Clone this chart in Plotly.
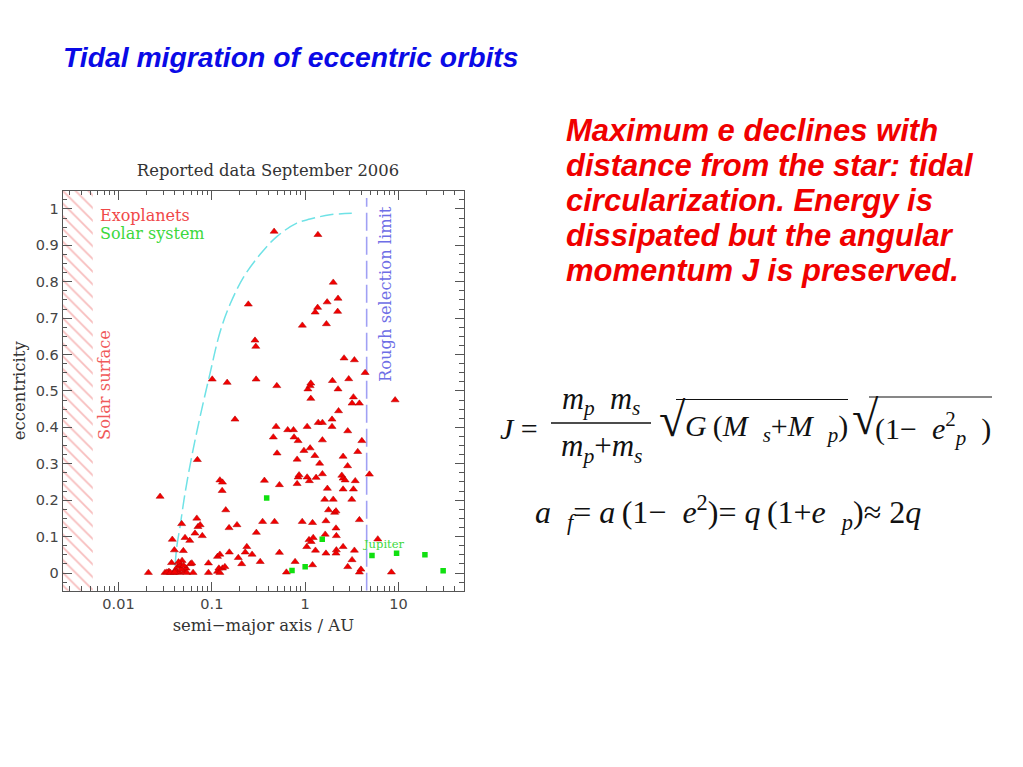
import plotly.graph_objects as go

W, H = 1023, 767

# ---------------- data ----------------
# Exoplanets: semi-major axis (AU) and eccentricity
exo_a = [0.0209, 0.0279, 0.0315, 0.0347, 0.0377, 0.0387, 0.037, 0.0397, 0.041, 0.043,
         0.045, 0.046, 0.048, 0.0475, 0.0495, 0.051, 0.0516, 0.053, 0.054, 0.058,
         0.059, 0.063, 0.066, 0.069, 0.070, 0.071, 0.075, 0.079, 0.092, 0.092,
         0.101, 0.115, 0.115, 0.122, 0.119, 0.122, 0.122, 0.130, 0.129, 0.130,
         0.138, 0.141, 0.146, 0.153, 0.154, 0.177, 0.186, 0.192, 0.209, 0.228,
         0.237, 0.033, 0.036, 0.042, 0.047, 0.044, 0.050, 0.040, 0.061,
         0.246, 0.290, 0.296, 0.298, 0.30, 0.27, 0.33, 0.35, 0.366, 0.456,
         0.465, 0.47, 0.488, 0.497, 0.50, 0.53, 0.53, 0.63, 0.65, 0.75,
         0.76, 0.78, 0.82, 0.82, 0.84, 0.84, 0.86, 0.93, 0.933, 0.97,
         1.04, 1.05, 1.05, 1.07, 1.10, 1.11, 1.13, 1.13, 1.15, 1.15,
         1.16, 1.20, 1.20, 1.22, 1.27, 1.28, 1.29, 1.31, 1.36, 1.37,
         1.38, 1.43, 1.53, 1.53, 1.53, 1.62, 1.64, 1.67, 1.67, 1.69,
         1.72, 1.73, 1.78, 1.94, 1.94, 1.96, 2.00, 2.00, 2.07, 2.14,
         2.14, 2.16, 2.16, 2.14, 2.23, 2.25, 2.25, 2.28, 2.47, 2.55,
         2.55, 2.55, 2.55, 2.61, 2.68, 2.85, 2.86, 2.86, 2.93, 3.16,
         3.18, 3.18, 3.29, 3.29, 3.37, 3.37, 3.44, 3.66, 3.81, 3.81,
         3.81, 3.96, 4.05, 4.39, 4.88, 6.0, 8.4, 9.2]
exo_e = [0.001, 0.210, 0.001, 0.004, 0.092, 0.001, 0.028, 0.063, 0.008, 0.017,
         0.001, 0.022, 0.034, 0.135, 0.061, 0.004, 0.097, 0.013, 0.001, 0.089,
         0.025, 0.001, 0.109, 0.150, 0.311, 0.127, 0.132, 0.102, 0.027, 0.001,
         0.532, 0.045, 0.004, 0.051, 0.013, 0.001, 0.255, 0.249, 0.226, 0.013,
         0.017, 0.173, 0.523, 0.124, 0.057, 0.422, 0.132, 0.042, 0.025, 0.057,
         0.072, 0.002, 0.001, 0.003, 0.010, 0.030, 0.020, 0.002, 0.027,
         0.738, 0.639, 0.622, 0.532, 0.111, 0.051, 0.031, 0.141, 0.254, 0.373,
         0.938, 0.141, 0.402, 0.514, 0.329, 0.242, 0.056, 0.002, 0.393, 0.393,
         0.373, 0.031, 0.312, 0.245, 0.363, 0.263, 0.269, 0.141, 0.680, 0.336,
         0.072, 0.402, 0.263, 0.505, 0.091, 0.253, 0.514, 0.343, 0.521, 0.479,
         0.086, 0.138, 0.022, 0.097, 0.322, 0.716, 0.062, 0.262, 0.729, 0.929,
         0.413, 0.301, 0.413, 0.365, 0.272, 0.202, 0.106, 0.143, 0.054, 0.684,
         0.744, 0.232, 0.173, 0.422, 0.402, 0.528, 0.798, 0.202, 0.166, 0.170,
         0.123, 0.102, 0.063, 0.054, 0.718, 0.754, 0.505, 0.445, 0.268, 0.260,
         0.320, 0.230, 0.072, 0.590, 0.255, 0.294, 0.390, 0.017, 0.533, 0.202,
         0.466, 0.036, 0.483, 0.230, 0.585, 0.062, 0.253, 0.333, 0.466, 0.146,
         0.002, 0.010, 0.363, 0.550, 0.271, 0.093, 0.002, 0.475]

# Solar system planets
solar_names = ["Mercury", "Venus", "Earth", "Mars", "Jupiter", "Saturn", "Uranus", "Neptune"]
solar_a = [0.387, 0.723, 1.0, 1.524, 5.20, 9.54, 19.2, 30.1]
solar_e = [0.206, 0.007, 0.017, 0.093, 0.048, 0.054, 0.050, 0.006]

# Tidal circularization envelope (cyan dashed curve)
curve_a = [0.0404, 0.0421, 0.0456, 0.0516, 0.0609, 0.0748, 0.0958, 0.1225, 0.1567,
           0.218, 0.331, 0.497, 0.813, 1.13, 1.85, 3.16]
curve_e = [0.020, 0.072, 0.127, 0.219, 0.320, 0.429, 0.549, 0.662, 0.738,
           0.812, 0.876, 0.924, 0.961, 0.972, 0.984, 0.988]

solar_surface_a = 0.0053      # AU, hatched region edge
selection_limit_a = 4.56      # AU, rough selection limit

x_ticks = [0.01, 0.1, 1, 10]
x_tick_labels = ["0.01", "0.1", "1", "10"]

x_log_range = [-2.598, 1.702]
y_range = [-0.0486, 1.05]

text_lines = ["Maximum e declines with",
              "distance from the star: tidal",
              "circularization. Energy is",
              "dissipated but the angular",
              "momentum J is preserved."]

# ---------------- figure ----------------
def px(x):
    return x / W

def py(y):
    return 1 - y / H

x_lo = 10 ** x_log_range[0]

fig = go.Figure()

# hatched "solar surface" region
fig.add_trace(go.Scatter(
    x=[x_lo, solar_surface_a, solar_surface_a, x_lo, x_lo],
    y=[y_range[0], y_range[0], y_range[1], y_range[1], y_range[0]],
    mode="lines", fill="toself", line=dict(width=0, color="rgba(0,0,0,0)"),
    fillcolor="rgba(0,0,0,0)",
    fillpattern=dict(shape="\\", fgcolor="#f07c7c", bgcolor="white",
                     size=9, solidity=0.2),
    hoverinfo="skip", showlegend=False))

# circularization curve
fig.add_trace(go.Scatter(
    x=curve_a, y=curve_e, mode="lines",
    line=dict(color="#6fe2e6", width=1.5, dash="14px,5px", shape="spline", smoothing=1.0),
    hoverinfo="skip", showlegend=False))

# selection limit
fig.add_trace(go.Scatter(
    x=[selection_limit_a, selection_limit_a], y=[y_range[0], 1.03], mode="lines",
    line=dict(color="#a0a0f4", width=1.6, dash="18px,6px"),
    hoverinfo="skip", showlegend=False))

# exoplanets
fig.add_trace(go.Scatter(
    x=exo_a, y=exo_e, mode="markers", name="Exoplanets",
    marker=dict(symbol="triangle-up", size=7, color="#f20000",
                line=dict(color="#b00000", width=0.5)),
    showlegend=False))

# solar system
fig.add_trace(go.Scatter(
    x=solar_a, y=solar_e, mode="markers", name="Solar system", text=solar_names,
    marker=dict(symbol="square", size=5.5, color="#10e010", line=dict(width=0)),
    showlegend=False))

axis_col = "#555555"
tick_font = dict(family="DejaVu Sans", size=14.5, color="#444444")
serif = "DejaVu Serif"

minor_x = [m * 10 ** d for d in range(-3, 2) for m in range(2, 10)]

fig.update_layout(
    width=W, height=H,
    margin=dict(l=0, r=0, t=0, b=0),
    paper_bgcolor="white", plot_bgcolor="white",
    title=dict(text="Reported data September 2006", x=px(268), y=py(170),
               xanchor="center", yanchor="middle",
               font=dict(family=serif, size=16.4, color="#333333")),
    xaxis=dict(type="log", range=x_log_range, domain=[px(62.7), px(464)],
               tickmode="array", tickvals=x_ticks, ticktext=x_tick_labels,
               ticks="inside", ticklen=9, tickwidth=1, tickcolor=axis_col,
               showline=True, linecolor=axis_col, linewidth=1.2, mirror="allticks",
               showgrid=False, zeroline=False, tickfont=tick_font,
               minor=dict(tickmode="array", tickvals=minor_x, ticks="inside",
                          ticklen=4.5, tickcolor=axis_col, showgrid=False),
               title=dict(text="semi\u2212major axis / AU", standoff=8,
                          font=dict(family=serif, size=16.5, color="#333333"))),
    yaxis=dict(range=y_range, domain=[py(590.7), py(190.7)],
               tick0=0, dtick=0.1,
               ticks="inside", ticklen=9, tickwidth=1, tickcolor=axis_col,
               showline=True, linecolor=axis_col, linewidth=1.2, mirror="allticks",
               showgrid=False, zeroline=False, tickfont=tick_font,
               minor=dict(tick0=0, dtick=0.025, ticks="inside",
                          ticklen=4.5, tickcolor=axis_col, showgrid=False),
               title=dict(text="eccentricity", standoff=5,
                          font=dict(family=serif, size=16.5, color="#333333"))),
)

ann = []

def add_text(text, x, y, size, color, family, xanchor="left", yanchor="middle", angle=0):
    ann.append(dict(text=text, x=px(x), y=py(y), xref="paper", yref="paper",
                    xanchor=xanchor, yanchor=yanchor, showarrow=False,
                    textangle=angle, font=dict(size=size, color=color, family=family)))

# in-plot labels
add_text("Exoplanets", 98, 215, 16, "#f04848", serif)
add_text("Solar system", 98, 233, 16, "#3cd83c", serif)
add_text("Jupiter", 361, 544, 11.5, "#3cd83c", serif)
add_text("Solar surface", 104, 385, 16.3, "#f05a5a", serif, xanchor="center", angle=-90)
add_text("Rough selection limit", 385, 294, 16.3, "#6e6ee6", serif, xanchor="center", angle=-90)

# slide title
add_text("<b><i>Tidal migration of eccentric orbits</i></b>", 61, 57, 28.3,
         "#0a0ae6", "Liberation Sans")

# explanatory text
for i, line in enumerate(text_lines):
    add_text("<b><i>" + line + "</i></b>", 564, 131 + 34.8 * i, 31, "#f00000",
             "Liberation Sans")

# formulas
ff = "Liberation Serif"
fc = "#111111"
add_text("<i>J</i> =", 498, 428, 30, fc, ff)
add_text("<i>m</i><sub><i>p</i></sub>\u2002<i>m</i><sub><i>s</i></sub>", 601, 401, 30.5, fc, ff,
         xanchor="center")
add_text("<i>m</i><sub><i>p</i></sub>+<i>m</i><sub><i>s</i></sub>", 602, 448, 31, fc, ff,
         xanchor="center")
add_text("\u221a", 657, 419, 48, fc, ff)
add_text("<i>G</i>\u2009(<i>M</i>\u2002<sub><i>s</i></sub>+<i>M</i>\u2002<sub><i>p</i></sub>)",
         683, 428, 30, fc, ff)
add_text("\u221a", 850, 417, 48, fc, ff)
add_text("(1\u2212\u2002<i>e</i><sup>2</sup><sub><i>p</i></sub>\u2002)", 873, 428, 30, fc, ff)
add_text("<i>a</i>\u2002<sub><i>f</i></sub>= <i>a</i>\u2009(1\u2212\u2002<i>e</i><sup>2</sup>)= "
         "<i>q</i>\u2009(1+<i>e</i>\u2002<sub><i>p</i></sub>)\u2248 2<i>q</i>",
         533, 512, 32, fc, ff)

fig.update_layout(annotations=ann)

shapes = [
    dict(type="line", xref="paper", yref="paper", x0=px(551), x1=px(651), y0=py(423), y1=py(423),
         line=dict(color=fc, width=1.3)),
    dict(type="line", xref="paper", yref="paper", x0=px(676), x1=px(848), y0=py(399.5), y1=py(399.5),
         line=dict(color=fc, width=1.2)),
    dict(type="line", xref="paper", yref="paper", x0=px(869), x1=px(992), y0=py(397), y1=py(397),
         line=dict(color=fc, width=1.2)),
]
fig.update_layout(shapes=shapes)

fig.write_html("out.html", config={"displayModeBar": False},
               post_script="document.body.style.margin='0px';")
